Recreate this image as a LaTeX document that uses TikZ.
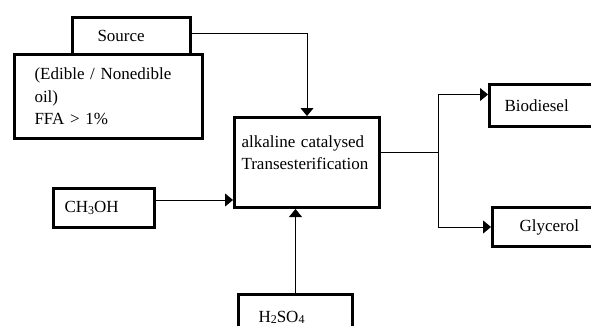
\documentclass[tikz,border=0pt]{standalone}
\usepackage{fontspec}
\setmainfont{Liberation Serif}
\usetikzlibrary{arrows.meta}
\newcommand{\chemsub}[1]{\raisebox{-0.15ex}{\fontsize{12}{12}\selectfont #1}}

\tikzset{
  box/.style={draw, line width=3pt, rectangle, anchor=north west, align=left, inner ysep=0pt},
  link/.style={line width=0.8pt, -{Triangle[width=13pt,length=8pt]}},
}

\begin{document}
\begin{tikzpicture}[x=1pt,y=-1pt,font=\fontsize{17}{22.5}\selectfont]
\useasboundingbox (0,0) rectangle (591,325);
\clip (0,0) rectangle (591,325);

%Eingaenge
\node[box,minimum width=118pt,minimum height=37pt,text width=68pt,inner xsep=25pt] (source) at (71,16) {Source};
\node[box,minimum width=188pt,minimum height=84pt,text width=148pt,inner xsep=20pt] (oil) at (13,53) {(Edible / Nonedible\\oil)\\FFA > 1\%};
\node[box,minimum width=101pt,minimum height=39pt,text width=79pt,inner xsep=11pt] (methanol) at (52,187) {CH\chemsub{3}OH};
\node[box,minimum width=114pt,minimum height=45pt,text width=74pt,inner xsep=20pt] (acid) at (237,293) {H\chemsub{2}SO\chemsub{4}};

%Reaktor
\node[box,minimum width=145pt,minimum height=90pt,text width=131pt,inner xsep=7pt,text depth=42pt] (reactor) at (233,116) {alkaline catalysed\\Transesterification};

%Produkte
\node[box,minimum width=120pt,minimum height=42pt,text width=90pt,inner xsep=15pt] (biodiesel) at (488,83) {Biodiesel};
\node[box,minimum width=120pt,minimum height=39pt,text width=66pt,inner xsep=27pt] (glycerol) at (491,206) {Glycerol};

\coordinate (fork) at (438,152);

%Verbindungen
\draw[link] ([yshift=3pt]source.east) -| (reactor.north);
\draw[link] ([yshift=8pt]methanol.east) -- ([yshift=8pt]methanol.east -| reactor.west);
\draw[link] (acid.north) -- (acid.north |- reactor.south);
\draw[line width=0.8pt] (reactor.east |- fork) -- (fork);
\draw[link] (fork) |- ([yshift=11pt]biodiesel.west);
\draw[link] (fork) |- (glycerol.west);
\end{tikzpicture}
\end{document}
